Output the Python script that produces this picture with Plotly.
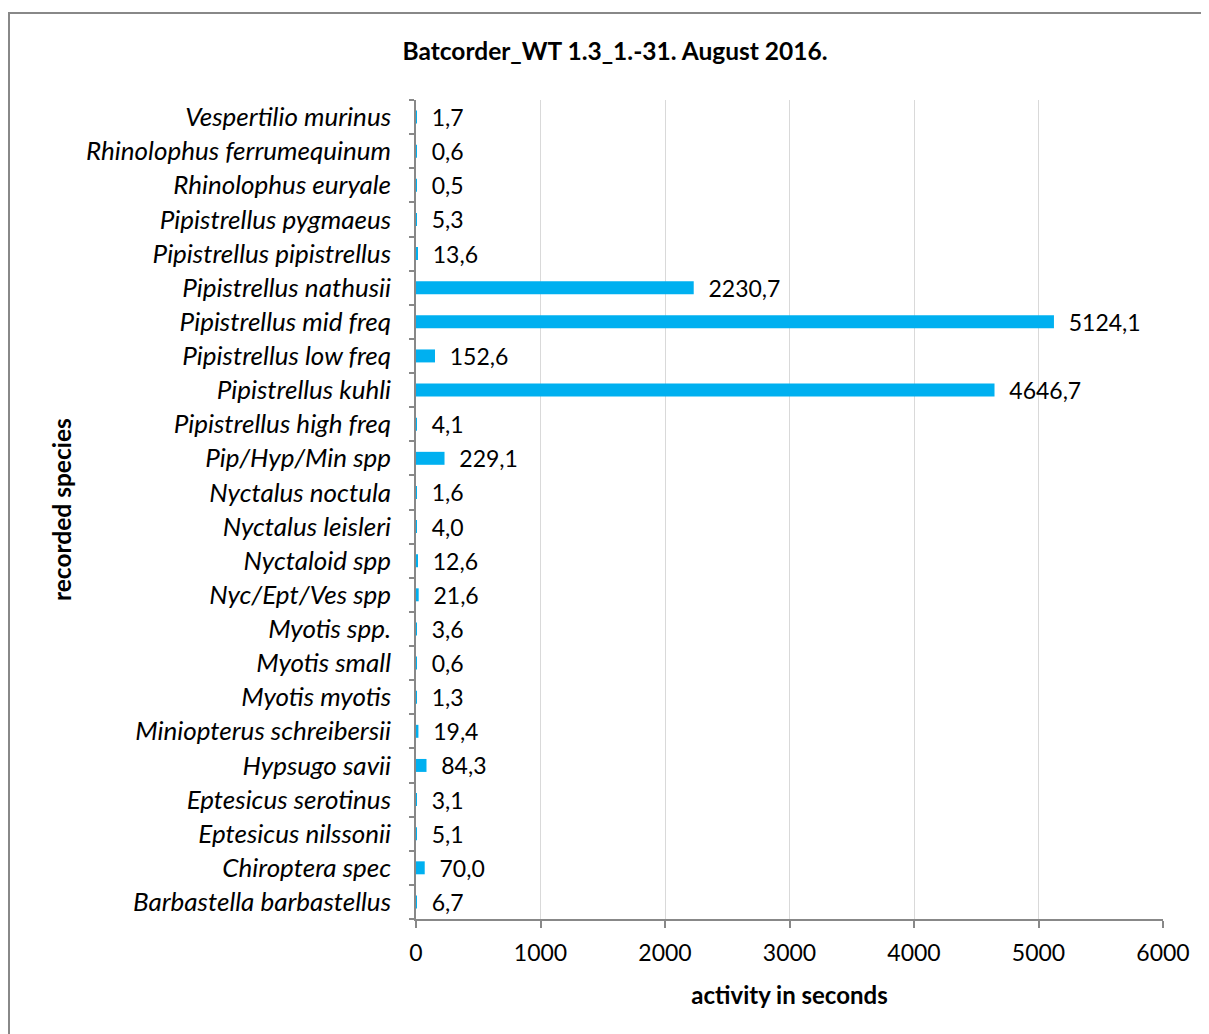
import plotly.graph_objects as go

species = [
    "Barbastella barbastellus", "Chiroptera spec", "Eptesicus nilssonii", "Eptesicus serotinus",
    "Hypsugo savii", "Miniopterus schreibersii", "Myotis myotis", "Myotis small", "Myotis spp.",
    "Nyc/Ept/Ves spp", "Nyctaloid spp", "Nyctalus leisleri", "Nyctalus noctula", "Pip/Hyp/Min spp",
    "Pipistrellus high freq", "Pipistrellus kuhli", "Pipistrellus low freq", "Pipistrellus mid freq",
    "Pipistrellus nathusii", "Pipistrellus pipistrellus", "Pipistrellus pygmaeus",
    "Rhinolophus euryale", "Rhinolophus ferrumequinum", "Vespertilio murinus",
]
activity = [6.7, 70.0, 5.1, 3.1, 84.3, 19.4, 1.3, 0.6, 3.6, 21.6, 12.6, 4.0, 1.6, 229.1,
            4.1, 4646.7, 152.6, 5124.1, 2230.7, 13.6, 5.3, 0.5, 0.6, 1.7]
x_ticks = [0, 1000, 2000, 3000, 4000, 5000, 6000]

FONT = "Lato"
OFF = 8  # page body margin
W, H = 1209 - OFF, 1034 - OFF
L = 416 - OFF
T = 100 - OFF
R = W - (1163 - OFF)
B = H - (919 - OFF)
pw, ph = W - L - R, H - T - B


def px_x(p):
    return (p - OFF - L) / pw


def px_y(p):
    return 1 - (p - OFF - T) / ph


fig = go.Figure(go.Bar(
    y=species, x=activity, orientation="h",
    marker=dict(color="#00B0F0", line=dict(width=0)),
    texttemplate="  %{x:.1f}", textposition="outside", cliponaxis=False,
    constraintext="none",
    textfont=dict(family=FONT, size=23, color="#000000"),
))

fig.update_layout(
    width=W, height=H,
    margin=dict(l=L, r=R, t=T, b=B, autoexpand=False),
    paper_bgcolor="white", plot_bgcolor="white",
    separators=",.",
    bargap=0.62,
    showlegend=False,
    font=dict(family=FONT, color="#000000"),
    title=dict(text="<b>Batcorder_WT 1.3_1.-31. August 2016.</b>", x=(615 - OFF) / W, xanchor="center",
               y=1 - (51 - OFF) / H, yanchor="middle", font=dict(family=FONT, size=24.5)),
    xaxis=dict(
        range=[0, 6000], tickvals=x_ticks, ticktext=[str(v) for v in x_ticks],
        showgrid=True, gridcolor="#D9D9D9", gridwidth=1,
        showline=True, linecolor="#888888", linewidth=1.5,
        ticks="outside", ticklen=7, tickcolor="#888888", tickwidth=1.5,
        tickfont=dict(family=FONT, size=23), zeroline=False,
        ticklabelstandoff=6,
        title=dict(text="<b>activity in seconds</b>", font=dict(family=FONT, size=24), standoff=22),
    ),
    yaxis=dict(
        type="category", tickson="boundaries",
        showline=True, linecolor="#888888", linewidth=1.5,
        ticks="outside", ticklen=5, tickcolor="#888888", tickwidth=1.5,
        tickfont=dict(family=FONT, size=26, style="italic"),
        ticklabelstandoff=18,
        showgrid=False,
        title=dict(text="", font=dict(family=FONT, size=24)),
    ),
    annotations=[dict(text="<b>recorded species</b>", xref="paper", yref="paper",
                      x=px_x(61), y=px_y(510), xanchor="center", yanchor="middle",
                      textangle=-90, showarrow=False, font=dict(family=FONT, size=24.5))],
    shapes=[dict(type="rect", xref="paper", yref="paper",
                 x0=px_x(9), x1=px_x(1240), y0=px_y(1070), y1=px_y(13),
                 line=dict(color="#888888", width=2), fillcolor="rgba(0,0,0,0)", layer="below")],
)

fig.write_html("out.html")
